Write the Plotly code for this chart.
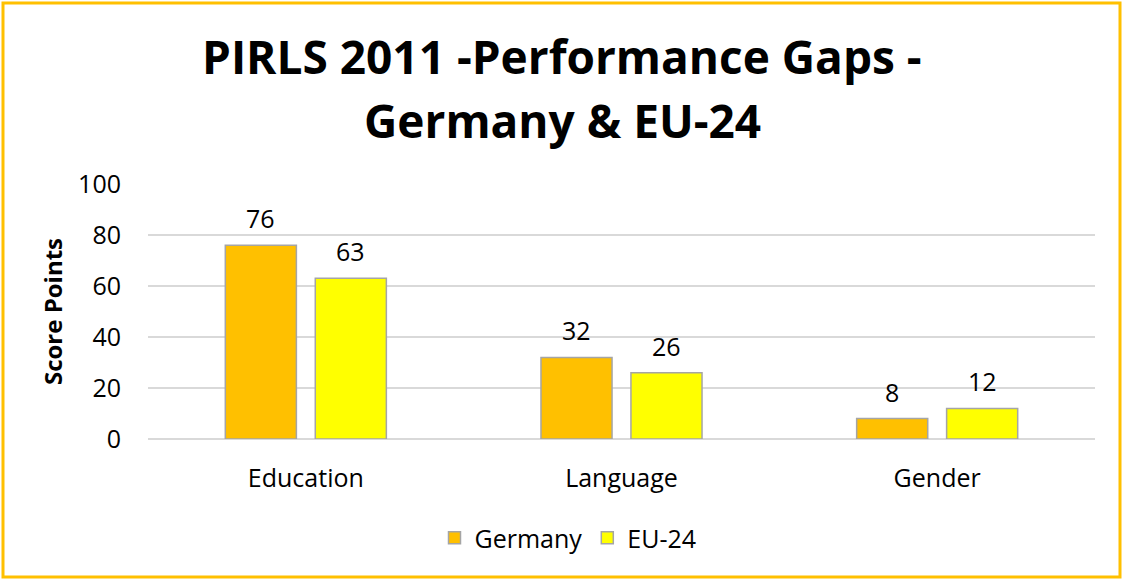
import plotly.graph_objects as go

categories = ["Education", "Language", "Gender"]
germany = [76, 32, 8]
eu24 = [63, 26, 12]
series_names = ["Germany", "EU-24"]
title_lines = ["PIRLS 2011 -Performance Gaps -", "Germany & EU-24"]

W, H = 1124, 581
L, R, T, B = 148, 29, 184, 142
pw, ph = W - L - R, H - T - B

FONT = "Open Sans"
FS = 25


def px_x(p):
    return (p - L) / pw


def px_y(p):
    return (H - B - p) / ph


fig = go.Figure()
series = [(series_names[0], germany, "#FFC000", -45), (series_names[1], eu24, "#FFFF00", 45)]
annotations = []
for name, vals, col, shift in series:
    fig.add_trace(go.Bar(
        name=name, x=categories, y=vals,
        marker=dict(color=col, line=dict(color="#A5A5A5", width=1.5)),
    ))
    for c, v in zip(categories, vals):
        annotations.append(dict(
            text=str(v), x=c, y=v, xref="x", yref="y", xshift=shift, yshift=8,
            xanchor="center", yanchor="bottom", showarrow=False,
            font=dict(size=FS, family=FONT, color="#000000"),
        ))

annotations += [
    dict(text="<b>%s</b>" % title_lines[0], xref="paper", yref="paper",
         x=px_x(562), y=px_y(56), xanchor="center", yanchor="middle",
         showarrow=False, font=dict(size=46, family=FONT, color="#000000")),
    dict(text="<b>%s</b>" % title_lines[1], xref="paper", yref="paper",
         x=px_x(562), y=px_y(120), xanchor="center", yanchor="middle",
         showarrow=False, font=dict(size=46, family=FONT, color="#000000")),
]

fig.update_layout(
    width=W, height=H,
    margin=dict(l=L, r=R, t=T, b=B, autoexpand=False),
    paper_bgcolor="white", plot_bgcolor="white",
    font=dict(family=FONT, color="#000000"),
    barmode="group", bargap=0.43, bargroupgap=0.21,
    xaxis=dict(
        showgrid=False, showline=False, ticks="", ticklabelstandoff=22,
        tickfont=dict(size=FS, family=FONT, color="#000000"),
    ),
    yaxis=dict(
        range=[0, 100], dtick=20, showgrid=True, gridcolor="#D9D9D9", gridwidth=2,
        zeroline=True, zerolinecolor="#D9D9D9", zerolinewidth=2,
        showline=False, ticks="", ticklabelstandoff=26,
        tickfont=dict(size=FS, family=FONT, color="#000000"),
        title=dict(text="<b>Score Points</b>", font=dict(size=24, family=FONT, color="#000000"), standoff=8),
    ),
    legend=dict(
        orientation="h", x=px_x(568), xanchor="center", y=px_y(538), yanchor="middle",
        font=dict(size=FS, family=FONT, color="#000000"),
        traceorder="normal",
    ),
    annotations=annotations,
    shapes=[dict(
        type="rect", xref="paper", yref="paper",
        x0=px_x(3), x1=px_x(1120), y0=px_y(577), y1=px_y(3),
        line=dict(color="#FFC000", width=3), fillcolor="rgba(0,0,0,0)", layer="above",
    )],
)

fig.write_html("out.html", config={"displayModeBar": False},
               post_script="document.body.style.margin='0';")
